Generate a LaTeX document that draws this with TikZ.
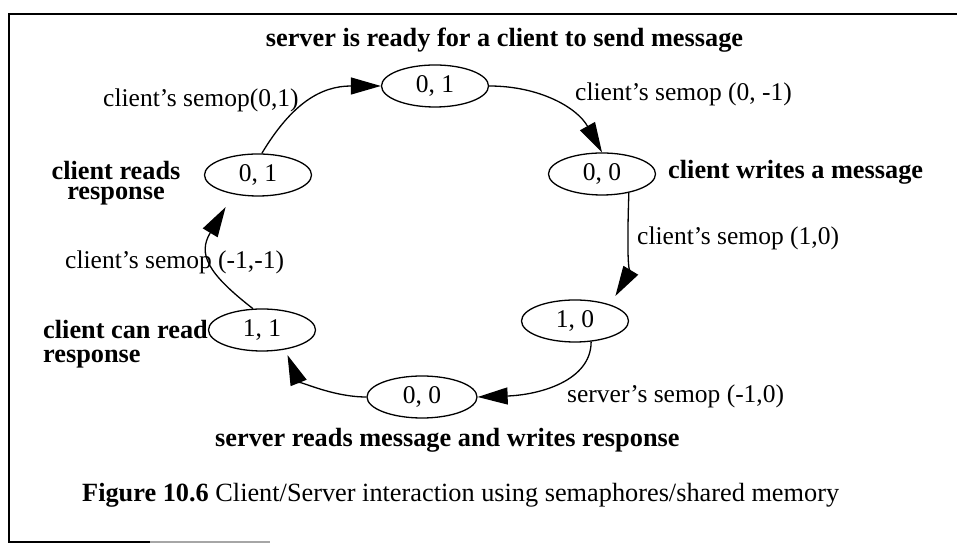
\documentclass[tikz,border=0pt]{standalone}
\usepackage{fontspec}
\setmainfont{Liberation Serif}
\usetikzlibrary{shapes.geometric,arrows.meta}
\begin{document}
\begin{tikzpicture}[x=1pt,y=1pt,
  state/.style={draw, ellipse, line width=1.3pt, minimum width=107pt,
    minimum height=42pt, inner sep=0pt, font=\fontsize{25.5}{30}\selectfont},
  link/.style={line width=1.3pt, -{Triangle[length=30pt,width=17pt]}},
  lbl/.style={inner sep=0pt, font=\fontsize{25.5}{30}\selectfont},
  blbl/.style={inner sep=0pt, font=\fontsize{26.3}{30}\selectfont\bfseries},
  frameline/.style={line width=2pt}]
\fill[white] (0,0) rectangle (957,545);
\useasboundingbox (0,0) rectangle (957,545);

% frame around the figure
\coordinate (fr1) at (957,531);
\coordinate (fr2) at (9,531);
\coordinate (fr3) at (9,3);
\coordinate (fr4) at (150,3);
\coordinate (fr5) at (270,3);
\draw[frameline] (fr1) -- (fr2) -- (fr3) -- (fr4);
\draw[frameline, black!35] (fr4) -- (fr5);

% semaphore states
\node[state] (s1) at (435,459) {0, 1};
\node[state] (s2) at (602,371) {0, 0};
\node[state] (s3) at (575,224) {1, 0};
\node[state, minimum width=110pt] (s4) at (422,148) {0, 0};
\node[state] (s5) at (262,215) {1, 1};
\node[state] (s6) at (258,370) {0, 1};

% state descriptions
\node[blbl, anchor=base] (t1) at (504.5,498) {server is ready for a client to send message};
\node[blbl, align=center, anchor=south, font=\fontsize{26.3}{20}\selectfont\bfseries]
  (cr) at (116,339.5) {client reads\\response};
\node[blbl, anchor=base west] (cw) at (668,366) {client writes a message};
\node[blbl, anchor=base west] (sr) at (215,98) {server reads message and writes response};
\node[blbl, align=left, anchor=south west, font=\fontsize{26.3}{24}\selectfont\bfseries]
  (cc) at (43,176.3) {client can read\\response};

% transition labels
\node[lbl, anchor=base west] (e1) at (103,438) {client's semop(0,1)};
\node[lbl, anchor=base west] (e2) at (575,444) {client's semop (0, -1)};
\node[lbl, anchor=base west] (e3) at (637,300) {client's semop (1,0)};
\node[lbl, anchor=base west] (e4) at (567,142) {server's semop (-1,0)};
\node[lbl, anchor=base west] (e6) at (65,276) {client's semop (-1,-1)};

% caption
\node[lbl, anchor=base west, font=\fontsize{26.3}{30}\selectfont] (cap) at (82,43)
  {\textbf{Figure 10.6} Client/Server interaction using semaphores/shared memory};

% transitions
\draw[link] (s6.80) .. controls +(30,50) and +(-60,0) .. (s1.west);
\draw[link] (s1.east) .. controls +(50,0) and +(-25,45) .. (s2.north);
\draw[link, shorten >=10pt] (s2.-35) .. controls +(-2,-60) and +(18,30) .. (s3.25);
\draw[link] (s3.-52) .. controls +(0,-40) and +(60,2) .. (s4.east);
\draw[link, shorten >=6pt] (s4.west) .. controls +(-35,0) and +(12,-30) .. (s5.-40);
\draw[link, shorten >=15pt] (s5.113) .. controls +(-45,35) and +(-36,-60) .. (s6.-142);
\end{tikzpicture}
\end{document}
